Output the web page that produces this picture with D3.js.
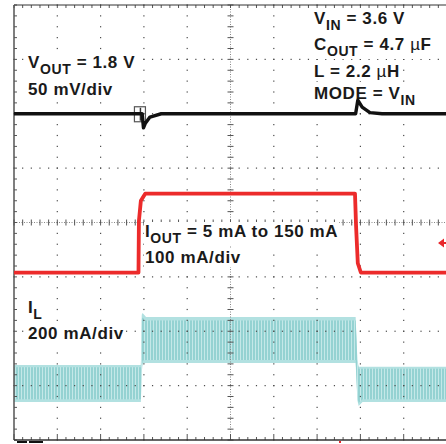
<!DOCTYPE html>
<html><head><meta charset="utf-8">
<script src="https://cdn.jsdelivr.net/npm/d3@7"></script>
<style>
html,body{margin:0;padding:0;background:#fff;}
svg{display:block;}
text{font-family:"Liberation Sans",Arial,sans-serif;font-weight:bold;fill:#1a1a1a;}
</style></head>
<body>
<svg id="c" width="446" height="444"></svg>
<script>
// ---- data (time in divisions of the scope screen) ----
// V_OUT deviation from 1.8 V, mV (50 mV/div, channel centre at 6 div)
const voutTime = [0, 2.96, 2.99, 3.03, 3.14, 3.4, 7.89, 7.94, 8.04, 8.22, 8.5, 10];
const voutMv   = [0, 0, -13, -9, -3, 0, 0, 12.5, 6, 1, 0, 0];
// I_OUT, mA (100 mA/div, zero at 3.03 div)
const ioutTime = [0, 2.875, 2.885, 2.93, 3.03, 7.875, 7.90, 7.94, 8.01, 10];
const ioutMa   = [5, 5, 100, 137, 150, 150, 90, 22, 5, 5];
// I_L ripple envelope, mA (200 mA/div, zero at 1.03 div)
const ilTime   = [0, 2.93, 2.95, 2.97, 3.05, 7.89, 7.93, 7.96, 8.05, 10];
const ilMax    = [70, 70, 255, 261, 246, 246, 90, 63, 63, 63];
const ilMin    = [-66, -66, 40, 75, 77, 77, -60, -81, -66, -66];
const ilCoreMax= [62, 62, 240, 245, 234, 234, 84, 56, 56, 56];
const ilCoreMin= [-56, -56, 52, 86, 88, 88, -50, -70, -56, -56];
// channel settings
const voutScale = 50, voutPos = 6.0;
const ioutScale = 100, ioutPos = 3.03;
const ilScale = 200, ilPos = 1.03;
const triggerTime = 2.92;
// annotation text
const labelVout = [["V",""],["OUT","sub"],[" = 1.8 V",""]];
const labelVoutDiv = [["50 mV/div",""]];
const labelVin = [["V",""],["IN","sub"],[" = 3.6 V",""]];
const labelCout = [["C",""],["OUT","sub"],[" = 4.7 ",""],["\u00b5","mu"],["F",""]];
const labelL = [["L = 2.2 ",""],["\u00b5","mu"],["H",""]];
const labelMode = [["MODE = V",""],["IN","sub"]];
const labelIout = [["I",""],["OUT","sub"],[" = 5 mA to 150 mA",""]];
const labelIoutDiv = [["100 mA/div",""]];
const labelIl = [["I",""],["L","sub"]];
const labelIlDiv = [["200 mA/div",""]];

// ---- layout ----
const svg = d3.select("#c");
const x = d3.scaleLinear().domain([0, 10]).range([14, 447]);
const y = d3.scaleLinear().domain([0, 8]).range([440, 5]);
const minorX = d3.range(0, 10.0001, 0.2);
const minorY = d3.range(0, 8.0001, 0.2);

const defs = svg.append("defs");
const pat = defs.append("pattern").attr("id","ilp").attr("patternUnits","userSpaceOnUse")
  .attr("width",3).attr("height",10);
pat.append("rect").attr("width",3).attr("height",10).attr("fill","#94d2d2");
pat.append("rect").attr("width",1).attr("height",10).attr("fill","#c4e8e8");

// I_L trace (envelope)
const ilIdx = d3.range(ilTime.length);
const ilY = v => y(ilPos + v / ilScale);
svg.append("path")
  .attr("d", d3.area().x(i => x(ilTime[i])).y0(i => ilY(ilMin[i])).y1(i => ilY(ilMax[i]))(ilIdx))
  .attr("fill", "#b2e1e1");
svg.append("path")
  .attr("d", d3.area().x(i => x(ilTime[i])).y0(i => ilY(ilCoreMin[i])).y1(i => ilY(ilCoreMax[i]))(ilIdx))
  .attr("fill", "url(#ilp)");

// grid
const g = svg.append("g");
const dotCol = "#4a4a4a";
[1,2,3,5,6,7].forEach(r => {
  g.selectAll(null).data(minorX).join("rect")
    .attr("x", d => x(d) - 0.6).attr("y", y(r) - 0.6).attr("width", 1.2).attr("height", 1.2).attr("fill", dotCol);
});
[1,2,3,4,6,7,8,9].forEach(c => {
  g.selectAll(null).data(minorY).join("rect")
    .attr("x", x(c) - 0.6).attr("y", d => y(d) - 0.6).attr("width", 1.2).attr("height", 1.2).attr("fill", dotCol);
});
// centre axes
g.append("line").attr("x1", x(0)).attr("x2", x(10)).attr("y1", y(4)).attr("y2", y(4))
  .attr("stroke", "#888").attr("stroke-dasharray", "1,1.5");
g.append("line").attr("x1", x(5)).attr("x2", x(5)).attr("y1", y(0)).attr("y2", y(8))
  .attr("stroke", "#888").attr("stroke-dasharray", "1,1.5");
g.selectAll(null).data(minorX).join("line")
  .attr("x1", d => x(d)).attr("x2", d => x(d))
  .attr("y1", y(4) - 3).attr("y2", y(4) + 3).attr("stroke", "#555").attr("stroke-width", 1);
g.selectAll(null).data(minorY).join("line")
  .attr("y1", d => y(d)).attr("y2", d => y(d))
  .attr("x1", x(5) - 3).attr("x2", x(5) + 3).attr("stroke", "#555").attr("stroke-width", 1);
// edges
g.selectAll(null).data(minorX).join("line")
  .attr("x1", d => x(d)).attr("x2", d => x(d)).attr("y1", y(8)).attr("y2", y(8) + 3)
  .attr("stroke", "#555");
g.selectAll(null).data(minorX).join("line")
  .attr("x1", d => x(d)).attr("x2", d => x(d)).attr("y1", y(0)).attr("y2", d => y(0) - (Math.abs(d - Math.round(d)) < 1e-6 ? 6 : 3))
  .attr("stroke", "#555");
g.selectAll(null).data(minorY).join("line")
  .attr("y1", d => y(d)).attr("y2", d => y(d)).attr("x1", x(0)).attr("x2", x(0) + 3)
  .attr("stroke", "#555");
g.append("line").attr("x1", x(0)).attr("x2", x(10)).attr("y1", y(8)).attr("y2", y(8)).attr("stroke", "#333");
g.append("line").attr("x1", x(0)).attr("x2", x(0)).attr("y1", y(8)).attr("y2", y(0)).attr("stroke", "#555").attr("stroke-width", 1.5);
g.append("line").attr("x1", x(0)).attr("x2", x(10)).attr("y1", y(0)).attr("y2", y(0)).attr("stroke", "#333").attr("stroke-width", 1.5);

// labels
function label(parts, px, py) {
  const t = svg.append("text").attr("x", px).attr("y", py).attr("font-size", 17).attr("letter-spacing", 0.6);
  let sub = false;
  parts.forEach(([s, k]) => {
    const ts = t.append("tspan").text(s);
    if (k === "sub") { ts.attr("font-size", 14).attr("dy", sub ? 0 : 6); sub = true; }
    else {
      if (sub) { ts.attr("dy", -6); sub = false; }
      if (k === "mu") ts.attr("font-weight", "normal");
    }
  });
  const b = t.node().getBBox();
  svg.insert("rect", function(){ return t.node(); })
    .attr("x", b.x - 1).attr("y", b.y).attr("width", b.width + 2).attr("height", b.height).attr("fill", "#fff");
  return t;
}
label(labelVout, 28, 68);
label(labelVoutDiv, 28, 95);
label(labelVin, 314, 24);
label(labelCout, 314, 50);
label(labelL, 314, 77);
label(labelMode, 314, 99);
label(labelIout, 145, 237);
label(labelIoutDiv, 145, 263);
label(labelIl, 28, 313);
label(labelIlDiv, 28, 339);

// trigger marker on V_OUT
const tx = x(triggerTime), ty = y(voutPos);
svg.append("rect").attr("x", tx - 6).attr("y", ty - 7).attr("width", 11).attr("height", 15)
  .attr("fill", "none").attr("stroke", "#555").attr("stroke-width", 1.2);
svg.append("line").attr("x1", tx).attr("x2", tx).attr("y1", ty - 6).attr("y2", ty + 7).attr("stroke", "#333").attr("stroke-width", 1.5);

// V_OUT trace
const vIdx = d3.range(voutTime.length);
svg.append("path")
  .attr("d", d3.line().x(i => x(voutTime[i])).y(i => y(voutPos + voutMv[i] / voutScale))(vIdx))
  .attr("fill", "none").attr("stroke", "#111").attr("stroke-width", 3.4).attr("stroke-linejoin", "round");

// I_OUT trace
const iIdx = d3.range(ioutTime.length);
svg.append("path")
  .attr("d", d3.line().x(i => x(ioutTime[i])).y(i => y(ioutPos + ioutMa[i] / ioutScale))(iIdx))
  .attr("fill", "none").attr("stroke", "#ec2b2b").attr("stroke-width", 3.8).attr("stroke-linejoin", "round");

// I_OUT ground marker (right edge)
svg.append("path").attr("d", "M438,243 L444,238.5 L444,247.5 Z M443,242 H447 V244 H443 Z").attr("fill", "#e8262b");

// bottom status bars
svg.append("rect").attr("x", 17).attr("y", 441).attr("width", 10).attr("height", 2).attr("fill", "#111");
svg.append("rect").attr("x", 29).attr("y", 441).attr("width", 14).attr("height", 2).attr("fill", "#111");
svg.append("rect").attr("x", 339).attr("y", 441).attr("width", 2).attr("height", 2).attr("fill", "#e8262b");
</script>
</body></html>
